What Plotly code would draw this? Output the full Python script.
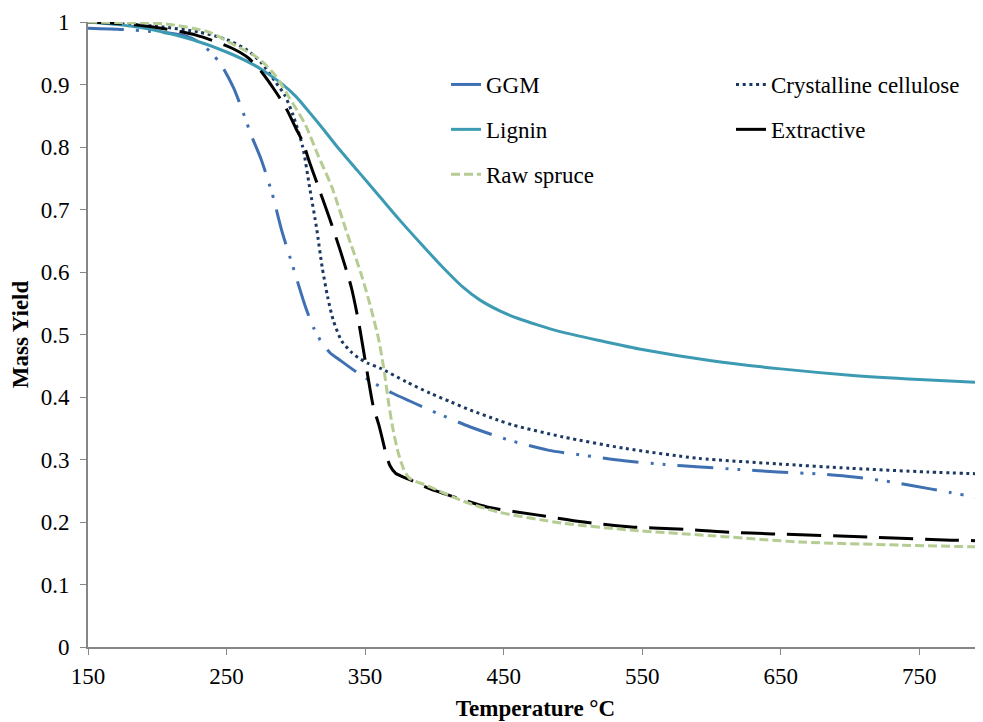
import plotly.graph_objects as go

# ---------------- data ----------------
ggm_t = [150, 175, 200, 220, 232, 245, 255, 262, 268, 275, 283, 290, 298, 307, 313, 319, 325, 330,
         345, 355, 370, 397, 426, 454, 482, 510, 537, 566, 592, 620, 648, 677, 703, 730, 758, 795]
ggm_y = [0.99, 0.988, 0.984, 0.978, 0.965, 0.935, 0.895, 0.855, 0.818, 0.78, 0.725, 0.665, 0.608, 0.544,
         0.51, 0.486, 0.47, 0.462, 0.438, 0.424, 0.406, 0.379, 0.352, 0.331, 0.315, 0.306, 0.298, 0.292,
         0.288, 0.284, 0.28, 0.277, 0.272, 0.264, 0.253, 0.238]

cel_t = [150, 200, 230, 250, 265, 275, 285, 292, 298, 305, 310, 315, 319, 323, 327, 333, 340, 345, 352,
         361, 380, 397, 412, 426, 446, 457, 493, 537, 590, 648, 700, 756, 795]
cel_y = [1.0, 0.993, 0.984, 0.972, 0.955, 0.935, 0.905, 0.883, 0.851, 0.8, 0.735, 0.67, 0.608, 0.56,
         0.523, 0.49, 0.472, 0.463, 0.454, 0.446, 0.424, 0.406, 0.392, 0.379, 0.363, 0.355, 0.336, 0.318,
         0.302, 0.293, 0.286, 0.28, 0.277]

lig_t = [150, 175, 200, 225, 250, 270, 280, 290, 300, 310, 320, 330, 345, 360, 375, 390, 405, 420, 433,
         448, 460, 475, 490, 520, 550, 600, 650, 700, 750, 795]
lig_y = [1.0, 0.995, 0.986, 0.972, 0.952, 0.931, 0.917, 0.901, 0.881, 0.855, 0.828, 0.8, 0.761, 0.722,
         0.683, 0.646, 0.61, 0.577, 0.555, 0.537, 0.526, 0.515, 0.505, 0.49, 0.476, 0.458, 0.445, 0.435,
         0.428, 0.423]

ext_t = [150, 175, 197, 228, 254, 266, 276, 285, 293, 300, 305, 310, 315, 324, 332, 340, 345.5, 350, 353,
         356, 360, 365, 368, 372, 383, 397, 420, 438, 475, 508, 542, 576, 610, 644, 713, 773, 795]
ext_y = [1.0, 0.997, 0.992, 0.979, 0.958, 0.942, 0.918, 0.89, 0.862, 0.83, 0.808, 0.775, 0.744, 0.688,
         0.635, 0.576, 0.518, 0.459, 0.42, 0.384, 0.355, 0.31, 0.29, 0.278, 0.267, 0.253, 0.236, 0.224,
         0.211, 0.2, 0.192, 0.189, 0.184, 0.181, 0.176, 0.171, 0.17]

raw_t = [150, 175, 206, 237, 256, 273, 285, 295, 307, 316, 326, 337, 347, 354, 360, 364, 367, 370, 374,
         378, 382, 395, 420, 446, 493, 542, 600, 664, 737, 795]
raw_y = [1.0, 0.999, 0.997, 0.984, 0.963, 0.942, 0.915, 0.88, 0.835, 0.787, 0.736, 0.662, 0.598, 0.544,
         0.49, 0.438, 0.39, 0.35, 0.31, 0.284, 0.27, 0.258, 0.234, 0.216, 0.198, 0.187, 0.178, 0.168,
         0.163, 0.16]

x_ticks = [150, 250, 350, 450, 550, 650, 750]
y_ticks = [0, 0.1, 0.2, 0.3, 0.4, 0.5, 0.6, 0.7, 0.8, 0.9, 1]
y_tick_text = ["0", "0.1", "0.2", "0.3", "0.4", "0.5", "0.6", "0.7", "0.8", "0.9", "1"]

FONT = "Times New Roman, Liberation Serif, DejaVu Serif, serif"
SM = 0.7

fig = go.Figure()
fig.add_trace(go.Scatter(x=ggm_t, y=ggm_y, name="GGM", mode="lines",
                         line=dict(color="#3F70B2", width=3, dash="36px,12px,3px,9px,3px,12px",
                                   shape="spline", smoothing=SM),
                         legend="legend", legendgroup="a"))
fig.add_trace(go.Scatter(x=cel_t, y=cel_y, name="Crystalline cellulose", mode="lines",
                         line=dict(color="#1B3862", width=3, dash="3px,3.7px", shape="spline", smoothing=SM),
                         legend="legend2", legendgroup="b"))
fig.add_trace(go.Scatter(x=lig_t, y=lig_y, name="Lignin", mode="lines",
                         line=dict(color="#3C9BB3", width=3, shape="spline", smoothing=SM),
                         legend="legend", legendgroup="c"))
fig.add_trace(go.Scatter(x=ext_t, y=ext_y, name="Extractive", mode="lines",
                         line=dict(color="#000000", width=3, dash="34px,12px", shape="spline", smoothing=SM),
                         legend="legend2", legendgroup="d"))
fig.add_trace(go.Scatter(x=raw_t, y=raw_y, name="Raw spruce", mode="lines",
                         line=dict(color="#B5CC92", width=3, dash="9px,4px", shape="spline", smoothing=SM),
                         legend="legend", legendgroup="e"))

legend_common = dict(font=dict(family=FONT, size=23, color="#000000"), bgcolor="rgba(0,0,0,0)",
                     orientation="v", tracegroupgap=12, xanchor="left", yanchor="top",
                     traceorder="grouped")

# the page adds an 8px body margin, so the figure is 975x714 and sits at (8, 8)
fig.update_layout(
    width=975, height=714,
    margin=dict(l=80, r=0, t=14, b=75, autoexpand=False),
    paper_bgcolor="white", plot_bgcolor="white",
    font=dict(family=FONT, size=23, color="#000000"),
    showlegend=True,
    legend=dict(x=(446 - 88) / 895, y=(647 - 63) / 625, **legend_common),
    legend2=dict(x=(731 - 88) / 895, y=(647 - 63) / 625, **legend_common),
    xaxis=dict(range=[150, 796], tickmode="array", tickvals=x_ticks, automargin=False,
               showline=True, linecolor="#868686", linewidth=2,
               ticks="outside", ticklen=6, tickcolor="#868686", tickwidth=1,
               showgrid=False, zeroline=False, ticklabelstandoff=1,
               tickfont=dict(family=FONT, size=23),
               title=dict(text="<b>Temperature °C</b>", font=dict(family=FONT, size=23), standoff=12)),
    yaxis=dict(range=[0, 1], tickmode="array", tickvals=y_ticks, ticktext=y_tick_text, automargin=False,
               showline=True, linecolor="#868686", linewidth=2,
               ticks="outside", ticklen=6, tickcolor="#868686", tickwidth=1,
               showgrid=False, zeroline=False, ticklabelstandoff=6,
               tickfont=dict(family=FONT, size=23),
               title=dict(text="<b>Mass Yield</b>", font=dict(family=FONT, size=23), standoff=8)),
)

fig.write_html("out.html")
